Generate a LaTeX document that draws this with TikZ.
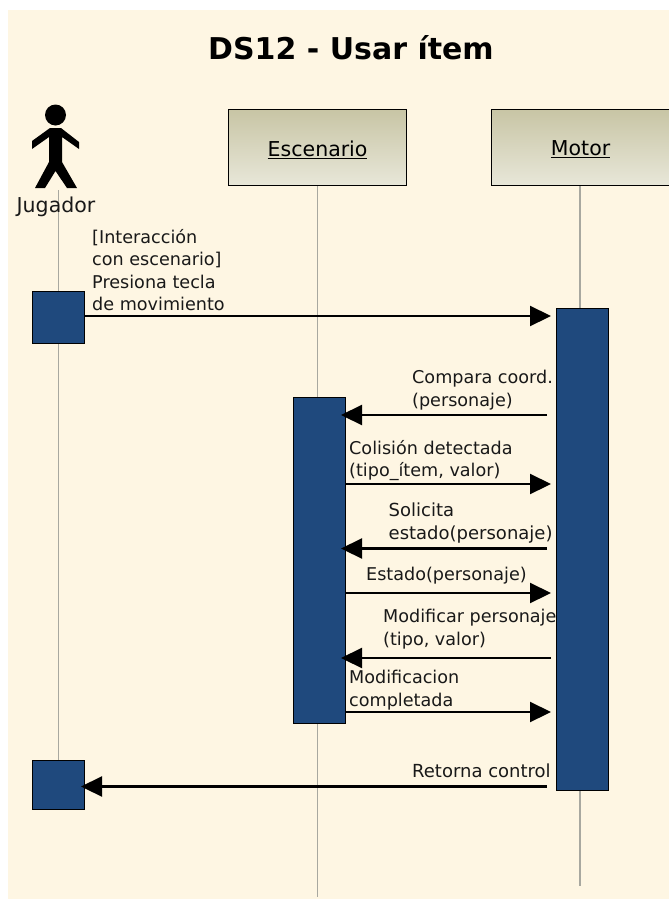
\documentclass[tikz,border=0pt]{standalone}
\usepackage{fontspec}
\setmainfont{DejaVu Sans}
\usetikzlibrary{arrows.meta}
\definecolor{bgcream}{HTML}{FEF6E3}
\definecolor{actblue}{HTML}{1F497D}
\definecolor{boxtop}{HTML}{C8C5A5}
\definecolor{boxbot}{HTML}{E8E7D9}
\definecolor{lifegray}{HTML}{A8A8A0}
\tikzset{
  objbox/.style={draw=black,line width=1.2pt,top color=boxtop,bottom color=boxbot,minimum width=178pt,minimum height=76pt,inner sep=0pt,font=\fontsize{20.5}{20.5}\selectfont,anchor=north west},
  actbox/.style={draw=black,line width=1.2pt,fill=actblue,inner sep=0pt,minimum width=52pt,anchor=north west},
  lifeline/.style={draw=lifegray,line width=1pt},
  msg/.style={draw=black,line width=2.2pt,-{Triangle[length=21pt,width=20pt]}},
  lab/.style={inner sep=0pt,align=left,font=\fontsize{17.6}{22.3}\selectfont,text=black!90,anchor=south west},
}
\begin{document}
\begin{tikzpicture}[x=1pt,y=-1pt]
\useasboundingbox (0,0) rectangle (669,900);
\fill[bgcream] (8,10) rectangle (669,899);
\node[font=\bfseries\fontsize{30}{30}\selectfont] (title) at (351,48) {DS12 - Usar ítem};
\coordinate (jl0) at (58,190);
\coordinate (jl1) at (58,760);
\coordinate (el1) at (317,897);
\coordinate (ml1) at (580,886);
\node[objbox,text depth=0pt,yshift=0pt] (esc) at (228,109) {\raisebox{-1.5pt}{\underline{Escenario}}};
\node[objbox,text depth=0pt] (mot) at (491,109) {\raisebox{-1.5pt}{\underline{Motor}}};
\draw[lifeline] (jl0) -- (jl1);
\draw[lifeline] (esc.south -| el1) -- (el1);
\draw[lifeline,line width=1.4pt] (mot.south -| ml1) -- (ml1);
% actor
\fill[black] (55.5,115) ellipse (10.5 and 10.5);
\fill[black] (50,128) -- (61,128) -- (79,142) -- (79,149) -- (62,137) -- (62,162) -- (77,188) -- (67,188) -- (55.5,171) -- (45,188) -- (35,188) -- (49,162) -- (49,137) -- (32,149) -- (32,141) -- cycle;
\node[font=\fontsize{20.5}{20.5}\selectfont,inner sep=0pt,text=black!90] (jug) at (56,207) {Jugador};
% activations
\node[actbox,minimum height=52pt] (j1) at (32,291) {};
\node[actbox,minimum height=49pt] (j2) at (32,759.5) {};
\node[actbox,minimum height=326pt,minimum width=52pt] (e1) at (292.5,397) {};
\node[actbox,minimum height=482pt] (m1) at (556,308) {};
% messages
\coordinate (a1) at (551,316);
\coordinate (a2) at (547,415);
\coordinate (a2t) at (341,415);
\coordinate (a3) at (551,484);
\coordinate (a4) at (547,548.5);
\coordinate (a4t) at (341,548.5);
\coordinate (a5) at (551,593);
\coordinate (a6) at (551,658);
\coordinate (a6t) at (341,658);
\coordinate (a7) at (551,712);
\coordinate (a8) at (547,786.5);
\coordinate (a8t) at (81,786.5);
\draw[msg] (j1.east |- a1) -- (a1);
\draw[msg] (a2) -- (a2t);
\draw[msg] (e1.east |- a3) -- (a3);
\draw[msg] (a4) -- (a4t);
\draw[msg] (e1.east |- a5) -- (a5);
\draw[msg] (a6) -- (a6t);
\draw[msg] (e1.east |- a7) -- (a7);
\draw[msg] (a8) -- (a8t);
% labels
\node[lab] (l1) at (92,311) {[Interacción\\con escenario]\\Presiona tecla\\de movimiento};
\node[lab] (l2) at (412,410) {Compara coord.\\(personaje)};
\node[lab] (l3) at (349,481) {Colisión detectada\\(tipo\_ítem, valor)};
\node[lab,font=\fontsize{18}{22.3}\selectfont] (l4) at (388.5,543) {Solicita\\estado(personaje)};
\node[lab] (l5) at (366,584) {Estado(personaje)};
\node[lab] (l6) at (383,649) {Modificar personaje\\(tipo, valor)};
\node[lab] (l7) at (349,710) {Modificacion\\completada};
\node[lab,font=\fontsize{18}{22.3}\selectfont] (l8) at (412,778) {Retorna control};
\end{tikzpicture}
\end{document}
